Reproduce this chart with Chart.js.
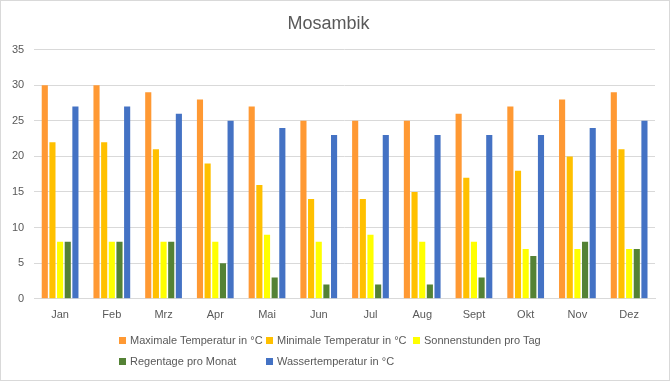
<!DOCTYPE html>
<html>
<head>
<meta charset="utf-8">
<script src="https://cdn.jsdelivr.net/npm/chart.js@4"></script>
<style>
  html, body { margin: 0; padding: 0; background: #fff; }
  #wrap { position: relative; width: 668px; height: 379px; border: 1px solid #d9d9d9; overflow: hidden; }
  #chart { position: absolute; left: 0; top: 0; }
  #legend { position: absolute; left: 118px; top: 333px; display: grid; grid-template-columns: 147px 147px 147px; row-gap: 9px;
            font-family: "Liberation Sans", Arial, sans-serif; font-size: 11px; color: #595959; }
  #legend div { display: flex; align-items: center; white-space: nowrap; }
  #legend span.box { display: inline-block; flex-shrink: 0; width: 7px; height: 7px; margin-right: 4px; }
</style>
</head>
<body>
<div id="wrap">
  <canvas id="chart" width="668" height="379"></canvas>
  <div id="legend"></div>
</div>
<script>
const months = ['Jan', 'Feb', 'Mrz', 'Apr', 'Mai', 'Jun', 'Jul', 'Aug', 'Sept', 'Okt', 'Nov', 'Dez'];
const maxTemp = [30, 30, 29, 28, 27, 25, 25, 25, 26, 27, 28, 29];
const minTemp = [22, 22, 21, 19, 16, 14, 14, 15, 17, 18, 20, 21];
const sunHours = [8, 8, 8, 8, 9, 8, 9, 8, 8, 7, 7, 7];
const rainDays = [8, 8, 8, 5, 3, 2, 2, 2, 3, 6, 8, 7];
const waterTemp = [27, 27, 26, 25, 24, 23, 23, 23, 23, 23, 24, 25];

const series = [
    { label: 'Maximale Temperatur in °C', data: maxTemp, color: '#ff9933' },
    { label: 'Minimale Temperatur in °C', data: minTemp, color: '#ffc000' },
    { label: 'Sonnenstunden pro Tag', data: sunHours, color: '#ffff00' },
    { label: 'Regentage pro Monat', data: rainDays, color: '#548235' },
    { label: 'Wassertemperatur in °C', data: waterTemp, color: '#4472c4' }
];

const legend = document.getElementById('legend');
series.forEach(s => {
    const item = document.createElement('div');
    item.innerHTML = `<span class="box" style="background:${s.color}"></span>${s.label}`;
    legend.appendChild(item);
});

const ctx = document.getElementById('chart').getContext('2d');
new Chart(ctx, {
    type: 'bar',
    data: {
        labels: months,
        datasets: series.map(s => ({
            label: s.label,
            data: s.data,
            backgroundColor: s.color,
            categoryPercentage: 0.74,
            barPercentage: 0.8
        }))
    },
    options: {
        responsive: false,
        animation: false,
        layout: { padding: { left: 1, right: 14, top: 8, bottom: 48 } },
        plugins: {
            legend: { display: false },
            tooltip: { enabled: false },
            title: {
                display: true,
                text: 'Mosambik',
                color: '#595959',
                font: { family: '"Liberation Sans", Arial, sans-serif', size: 18, weight: 'normal' },
                padding: { top: 4, bottom: 15 }
            }
        },
        scales: {
            y: {
                min: 0,
                max: 35,
                ticks: { stepSize: 5, color: '#595959', padding: 10, font: { family: '"Liberation Sans", Arial, sans-serif', size: 11 } },
                grid: { color: '#d9d9d9', drawTicks: false },
                border: { display: false }
            },
            x: {
                ticks: { color: '#595959', padding: 10, font: { family: '"Liberation Sans", Arial, sans-serif', size: 11 } },
                grid: { display: false, drawTicks: false },
                border: { color: '#d9d9d9' }
            }
        }
    }
});
</script>
</body>
</html>
